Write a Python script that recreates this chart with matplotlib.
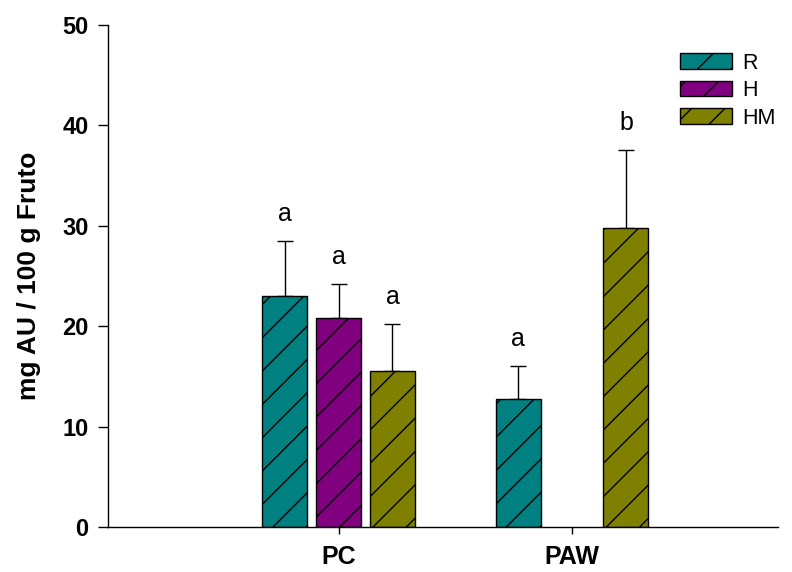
import matplotlib
matplotlib.use("Agg")
import matplotlib.pyplot as plt
import numpy as np

plt.rcParams['font.family'] = ['Liberation Sans', 'DejaVu Sans']
plt.rcParams['hatch.linewidth'] = 1.0

groups = ["PC", "PAW"]
series = ["R", "H", "HM"]
colors = ["#008080", "#800080", "#808000"]
means = {
    "R": [23.0, 12.7],
    "H": [20.8, np.nan],
    "HM": [15.5, 29.8],
}
errs = {
    "R": [5.5, 3.3],
    "H": [3.4, np.nan],
    "HM": [4.7, 7.7],
}
letters = {
    "R": ["a", "a"],
    "H": ["a", ""],
    "HM": ["a", "b"],
}

fig = plt.figure(figsize=(7.92, 5.72), dpi=100)
ax = fig.add_axes([108/792, 1-527/572, 670/792, 502/572])

x = np.arange(len(groups)) + 1
width = 0.193
step = 0.231
for i, s in enumerate(series):
    xs = x + (i - 1) * step
    vals = np.array(means[s], dtype=float)
    er = np.array(errs[s], dtype=float)
    mask = ~np.isnan(vals)
    ax.bar(xs[mask], vals[mask], width=width, color=colors[i], edgecolor='black',
           linewidth=1.0, hatch='/', label=s, zorder=2)
    ax.errorbar(xs[mask], vals[mask], yerr=[np.zeros(mask.sum()), er[mask]],
                fmt='none', ecolor='black', elinewidth=1.0, capsize=5.5, capthick=1.0, zorder=1)
    for xx, v, e, l in zip(xs[mask], vals[mask], er[mask], np.array(letters[s])[mask]):
        ax.text(xx, v + e + 1.5, l, ha='center', va='bottom', fontsize=18)

ax.set_xlim(1 - 230.5/233.5, 2 + 206/233.5)
ax.set_ylim(0, 50)
ax.set_yticks([0, 10, 20, 30, 40, 50])
ax.set_xticks(x)
ax.set_xticklabels(groups, fontsize=18, fontweight='bold')
for lab in ax.get_yticklabels():
    lab.set_fontsize(17)
    lab.set_fontweight('bold')
ax.tick_params(axis='y', direction='out', length=7, width=1, pad=7)
ax.tick_params(axis='x', direction='out', length=5, width=1, pad=8)
ax.spines['top'].set_visible(False)
ax.spines['right'].set_visible(False)
ax.spines['left'].set_linewidth(1.0)
ax.spines['bottom'].set_linewidth(1.0)
ax.set_ylabel("mg AU / 100 g Fruto", fontsize=19, fontweight='bold', labelpad=15)

leg = ax.legend(loc='upper left', bbox_to_anchor=(557/670, 0.975), frameon=False, fontsize=15.5,
                handlelength=2.4, handleheight=0.72, handletextpad=0.5, labelspacing=0.30,
                borderpad=0.2)

fig.savefig("out.png", dpi=100)
